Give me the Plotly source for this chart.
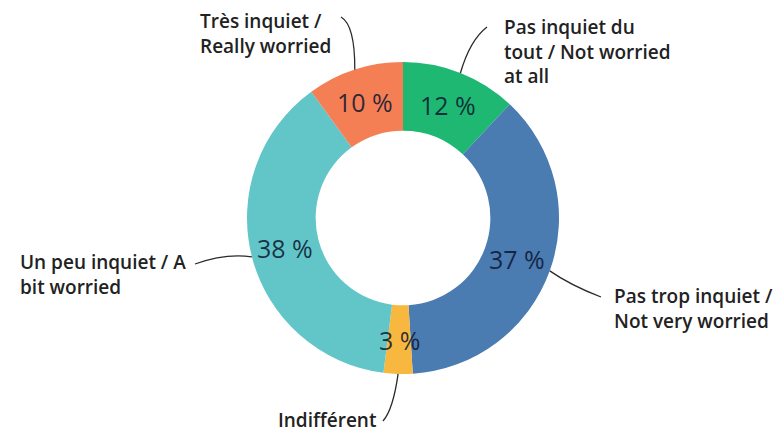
import math
import plotly.graph_objects as go

# Donnees
labels = [
    "Pas inquiet du<br>tout / Not worried<br>at all",
    "Pas trop inquiet /<br>Not very worried",
    "Indifférent",
    "Un peu inquiet / A<br>bit worried",
    "Très inquiet /<br>Really worried",
]
values = [12, 37, 3, 38, 10]
colors = ["#1fb873", "#4a7bb1", "#f8b73e", "#62c6c8", "#f47f55"]

W, H = 782, 435
CX, CY, R = 403, 218, 156  # centre et rayon du donut en pixels
HOLE = 0.56
RTXT = R * (1 + HOLE) / 2  # rayon du texte des pourcentages


def px(x, y):
    return x / W, 1 - y / H


fig = go.Figure()
fig.add_trace(go.Pie(
    values=values,
    labels=labels,
    marker=dict(colors=colors, line=dict(width=0)),
    hole=HOLE,
    sort=False,
    direction="clockwise",
    rotation=0,
    textinfo="none",
    hoverinfo="label+value",
    showlegend=False,
    domain=dict(x=[(CX - R) / W, (CX + R) / W], y=[1 - (CY + R) / H, 1 - (CY - R) / H]),
))

# Etiquettes externes: position, ancrage, point de controle et fin de la ligne
label_pos = [
    dict(x=502, y=52, xanchor="left", end=(487, 27), ctrl=(470, 40)),
    dict(x=612, y=308, xanchor="left", end=(601, 297), ctrl=(570, 285)),
    dict(x=378, y=420, xanchor="right", end=(383, 421), ctrl=(393, 410)),
    dict(x=188, y=274, xanchor="right", end=(195, 264), ctrl=(225, 253)),
    dict(x=333, y=33, xanchor="right", end=(341, 17), ctrl=(355, 25)),
]

total = sum(values)
cum = 0
shapes = []
annotations = []
for lab, v, pos in zip(labels, values, label_pos):
    mid = (cum + v / 2) / total * 2 * math.pi
    cum += v
    # ligne de rappel depuis le bord exterieur
    sx = CX + R * math.sin(mid)
    sy = CY - R * math.cos(mid)
    x0, y0 = px(sx, sy)
    cx_, cy_ = px(*pos["ctrl"])
    x1, y1 = px(*pos["end"])
    shapes.append(dict(
        type="path", xref="paper", yref="paper",
        path=f"M {x0},{y0} Q {cx_},{cy_} {x1},{y1}",
        line=dict(color="#2b2b2b", width=1.3),
    ))
    # etiquette
    ax, ay = px(pos["x"], pos["y"])
    annotations.append(dict(
        x=ax, y=ay, xref="paper", yref="paper",
        text=lab, showarrow=False,
        xanchor=pos["xanchor"], yanchor="middle", align="left",
        font=dict(family="Open Sans", size=19, color="#222222", weight=600),
    ))
    # pourcentage dans l'anneau
    tx, ty = px(CX + RTXT * math.sin(mid), CY - RTXT * math.cos(mid))
    annotations.append(dict(
        x=tx, y=ty, xref="paper", yref="paper",
        text=f"{v} %", showarrow=False,
        xanchor="center", yanchor="middle",
        font=dict(family="Open Sans", size=25, color="rgba(12,22,48,0.85)"),
    ))

fig.update_layout(
    width=W, height=H,
    margin=dict(l=0, r=0, t=0, b=0),
    paper_bgcolor="white",
    shapes=shapes,
    annotations=annotations,
)

fig.write_html("out.html", config={"displayModeBar": False},
               post_script="document.body.style.margin='0';")
